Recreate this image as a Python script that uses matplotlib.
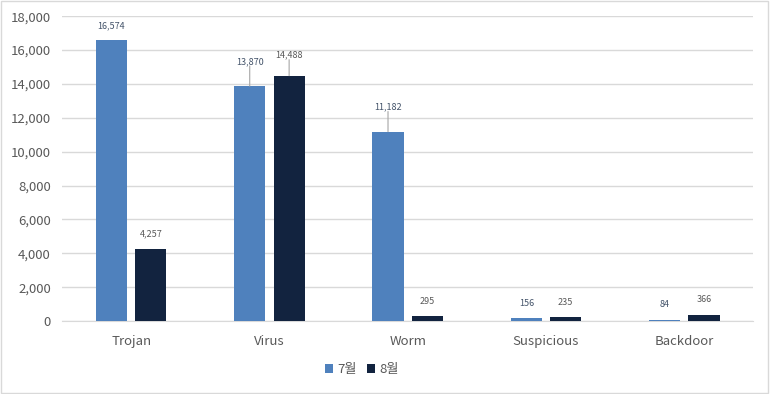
import matplotlib
matplotlib.use("Agg")
import matplotlib.pyplot as plt
import numpy as np
from matplotlib.patches import Rectangle

plt.rcParams['font.family'] = ['Noto Sans CJK KR', 'DejaVu Sans']

categories = ["Trojan", "Virus", "Worm", "Suspicious", "Backdoor"]
july = [16574, 13870, 11182, 156, 84]
august = [4257, 14488, 295, 235, 366]
series_names = ["7월", "8월"]
yticks = [0, 2000, 4000, 6000, 8000, 10000, 12000, 14000, 16000, 18000]

c_jul = "#4F81BD"
c_aug = "#12233F"

fig = plt.figure(figsize=(7.7, 3.94), dpi=100)
fig.add_artist(Rectangle((0.001, 0.002), 0.997, 0.995, transform=fig.transFigure,
                         fill=False, edgecolor="#D9D9D9", linewidth=1))
ax = fig.add_axes([0.0805, 0.185, 0.898, 0.774])

x = np.arange(len(categories))
w = 0.225
gap = 0.03
b1 = ax.bar(x - w/2 - gap, july, width=w, color=c_jul, label=series_names[0], zorder=3)
b2 = ax.bar(x + w/2 + gap, august, width=w, color=c_aug, label=series_names[1], zorder=3)

ax.set_xlim(-0.5, len(categories) - 0.5)
ax.set_ylim(0, 18000)
ax.set_yticks(yticks)
ax.set_yticklabels([f"{v:,}" for v in yticks])
ax.set_xticks(x)
ax.set_xticklabels(categories)
ax.tick_params(axis='both', length=0, colors="#595959", labelsize=9.5)
ax.tick_params(axis='x', pad=10)
ax.tick_params(axis='y', pad=8)
ax.grid(axis='y', color="#D9D9D9", linewidth=1, zorder=0)
for s in ['top', 'right', 'left']:
    ax.spines[s].set_visible(False)
ax.spines['bottom'].set_color("#D9D9D9")

# label offsets in points (leader lines for some)
jul_off = [7.5, 14.5, 14.5, 7.5, 7.5]
aug_off = [7.5, 11.5, 7.5, 7.5, 7.5]
jul_lead = [False, True, True, False, False]
aug_lead = [False, True, False, False, False]

def lab(bars, vals, offs, leads, color):
    for b, v, o, l in zip(bars, vals, offs, leads):
        xc = b.get_x() + b.get_width()/2
        h = b.get_height()
        ax.annotate(f"{v:,}", (xc, h), xytext=(0, o), textcoords="offset points",
                    ha="center", va="bottom", fontsize=6.5,
                    color=color, zorder=5)
        if l:
            ax.annotate("", (xc, h), xytext=(0, o), textcoords="offset points",
                        arrowprops=dict(arrowstyle="-", color="#A6A6A6", lw=0.8,
                                        shrinkA=0, shrinkB=0), zorder=4)

lab(b1, july, jul_off, jul_lead, "#44546A")
lab(b2, august, aug_off, aug_lead, "#595959")

leg = fig.legend(loc="center", bbox_to_anchor=(0.47, 0.062), ncol=2, frameon=False,
                 fontsize=9.5, handlelength=0.6, handleheight=0.6, handletextpad=0.3,
                 columnspacing=0.8)
for t in leg.get_texts():
    t.set_color("#595959")

fig.savefig("out.png", dpi=100)
